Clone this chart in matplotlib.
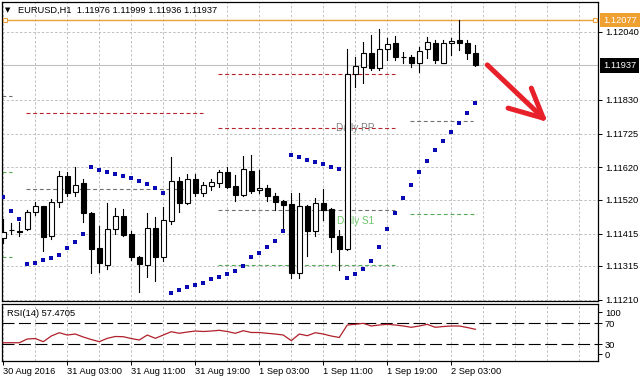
import matplotlib.pyplot as plt
from matplotlib.patches import Rectangle
import matplotlib.transforms as mtransforms

plt.rcParams['font.family'] = ['Liberation Sans', 'DejaVu Sans']
plt.rcParams['font.size'] = 6.7

# EURUSD H1 candles, 30 Aug 19:00 .. 2 Sep 06:00
opens = [1.11401, 1.11425, 1.11422, 1.11429, 1.11482, 1.11500, 1.11407, 1.11513, 1.11593, 1.11544,
         1.11572, 1.11479, 1.11370, 1.11318, 1.11429, 1.11469, 1.11414, 1.11342, 1.11318, 1.11432,
         1.11342, 1.11454, 1.11578, 1.11510, 1.11584, 1.11541, 1.11562, 1.11572, 1.11606, 1.11562,
         1.11535, 1.11609, 1.11550, 1.11556, 1.11531, 1.11516, 1.11507, 1.11293, 1.11500, 1.11423,
         1.11510, 1.11491, 1.11407, 1.11367, 1.11910, 1.11931, 1.11975, 1.11928, 1.11987, 1.12006,
         1.11963, 1.11962, 1.11944, 1.11987, 1.12006, 1.11944, 1.12006, 1.12015, 1.12006, 1.11976]
highs = [1.11460, 1.11448, 1.11451, 1.11488, 1.11513, 1.11502, 1.11522, 1.11609, 1.11606, 1.11621,
         1.11584, 1.11481, 1.11438, 1.11510, 1.11494, 1.11491, 1.11423, 1.11345, 1.11479, 1.11466,
         1.11497, 1.11652, 1.11590, 1.11600, 1.11600, 1.11575, 1.11584, 1.11612, 1.11621, 1.11597,
         1.11655, 1.11659, 1.11612, 1.11566, 1.11541, 1.11518, 1.11541, 1.11541, 1.11504, 1.11525,
         1.11553, 1.11493, 1.11426, 1.11987, 1.11962, 1.12009, 1.12031, 1.12049, 1.12021, 1.12027,
         1.11978, 1.11969, 1.11993, 1.12024, 1.12015, 1.12015, 1.12021, 1.12077, 1.12015, 1.11999]
lows = [1.11386, 1.11414, 1.11407, 1.11426, 1.11473, 1.11361, 1.11398, 1.11497, 1.11531, 1.11531,
        1.11451, 1.11293, 1.11296, 1.11305, 1.11414, 1.11407, 1.11333, 1.11234, 1.11280, 1.11268,
        1.11330, 1.11445, 1.11482, 1.11507, 1.11531, 1.11531, 1.11550, 1.11559, 1.11557, 1.11516,
        1.11531, 1.11541, 1.11541, 1.11516, 1.11488, 1.11429, 1.11277, 1.11277, 1.11345, 1.11407,
        1.11457, 1.11358, 1.11302, 1.11364, 1.11869, 1.11882, 1.11922, 1.11922, 1.11953, 1.11953,
        1.11944, 1.11931, 1.11916, 1.11959, 1.11944, 1.11944, 1.11969, 1.11984, 1.11956, 1.11936]
closes = [1.11420, 1.11427, 1.11420, 1.11482, 1.11500, 1.11404, 1.11513, 1.11593, 1.11541, 1.11566,
          1.11479, 1.11367, 1.11324, 1.11429, 1.11469, 1.11411, 1.11342, 1.11321, 1.11432, 1.11342,
          1.11457, 1.11578, 1.11510, 1.11584, 1.11541, 1.11566, 1.11575, 1.11606, 1.11559, 1.11535,
          1.11615, 1.11547, 1.11556, 1.11531, 1.11513, 1.11504, 1.11293, 1.11500, 1.11423, 1.11510,
          1.11488, 1.11404, 1.11367, 1.11910, 1.11934, 1.11975, 1.11928, 1.11987, 1.12003, 1.11962,
          1.11961, 1.11944, 1.11981, 1.12009, 1.11953, 1.12006, 1.12012, 1.12006, 1.11975, 1.11937]

# parabolic SAR
sar = [1.11528, 1.11485, 1.11460, 1.11321, 1.11324, 1.11333, 1.11339, 1.11349, 1.11370, 1.11389,
       1.11414, 1.11621, 1.11612, 1.11606, 1.11600, 1.11593, 1.11587, 1.11578, 1.11569, 1.11556,
       1.11541, 1.11231, 1.11240, 1.11249, 1.11256, 1.11262, 1.11274, 1.11280, 1.11290, 1.11299,
       1.11314, 1.11342, 1.11355, 1.11373, 1.11392, 1.11423, 1.11659, 1.11652, 1.11643, 1.11637,
       1.11631, 1.11621, 1.11615, 1.11277, 1.11290, 1.11305, 1.11330, 1.11373, 1.11429, 1.11479,
       1.11525, 1.11566, 1.11606, 1.11640, 1.11674, 1.11702, 1.11730, 1.11758, 1.11789, 1.11820]

# RSI(14)
rsi = [33.0, 33.0, 33.0, 40.1, 41.0, 35.0, 45.8, 52.1, 47.7, 49.6,
       43.9, 39.1, 35.0, 41.4, 44.9, 44.5, 41.0, 38.2, 47.7, 41.4,
       47.7, 54.0, 51.0, 53.4, 55.3, 54.4, 55.3, 56.7, 54.4, 51.0,
       55.9, 52.5, 52.5, 51.0, 49.6, 47.7, 36.9, 49.6, 46.4, 52.1,
       49.6, 45.8, 43.0, 66.8, 68.1, 70.0, 64.9, 66.8, 68.1, 66.8,
       64.9, 62.4, 64.9, 68.1, 62.4, 63.9, 64.9, 64.9, 62.0, 58.6]

# daily pivot segments: start bar, end bar, level, kind
piv_start = [-0.2, -0.2, -0.2, 2.9, 2.9, 26.9, 26.9, 26.9, 26.9, 50.9, 50.9]
piv_end = [1.1, 1.1, 1.1, 25.0, 25.0, 49.0, 49.0, 49.0, 49.0, 58.7, 59.2]
piv_level = [1.11841, 1.11606, 1.11342, 1.11789, 1.11553, 1.11910, 1.11742, 1.11488, 1.11318,
             1.11764, 1.11476]
piv_kind = ['pp', 's1', 's1', 'r', 'pp', 'r', 'r', 'pp', 's1', 'pp', 's1']

price_ticks = [1.12040, 1.11830, 1.11725, 1.11620, 1.11520, 1.11415, 1.11315, 1.11210]
time_labels = ['30 Aug 2016', '31 Aug 03:00', '31 Aug 11:00', '31 Aug 19:00',
               '1 Sep 03:00', '1 Sep 11:00', '1 Sep 19:00', '2 Sep 03:00']
day_high = 1.12077
last_price = 1.11937

# hand drawn arrow (bar, price)
arrow_shaft_x = [60.5, 67.5]
arrow_shaft_y = [1.11938, 1.11773]
arrow_arm1_x = [67.5, 66.0]
arrow_arm1_y = [1.11773, 1.11866]
arrow_arm2_x = [67.5, 63.1]
arrow_arm2_y = [1.11773, 1.11804]

W, H = 641, 382
fig = plt.figure(figsize=(W / 100, H / 100), dpi=100)
ax = fig.add_axes([2 / W, 1 - 301 / H, 596 / W, 299 / H])
ax2 = fig.add_axes([2 / W, 1 - 361 / H, 596 / W, 57 / H])

xmin, xmax = -0.16, 74.34
grid_kw = dict(color='#c0c0c0', lw=0.7, ls=(0, (2.5, 2)), zorder=0)

for a in (ax, ax2):
    a.set_xlim(xmin, xmax)
    for s in a.spines.values():
        s.set_linewidth(0.9)
        s.set_color('black')
    for k in range(0, 75, 4):
        a.axvline(k, **grid_kw)

# --- main panel
ax.set_ylim(1.11206, 1.12133)
for p in price_ticks:
    ax.axhline(p, **grid_kw)
ax.yaxis.tick_right()
ax.set_yticks(price_ticks)
ax.set_yticklabels(['%.5f' % p for p in price_ticks])
ax.tick_params(axis='y', direction='out', length=3, width=0.7, pad=2, labelsize=6.7)
ax.set_xticks([])

colors = {'r': '#b5242c', 'pp': '#707070', 's1': '#55aa55'}
for x0, x1, lev, kind in zip(piv_start, piv_end, piv_level, piv_kind):
    ax.plot([x0, x1], [lev, lev], color=colors[kind], lw=0.8, ls=(0, (3.5, 2.5)), zorder=1)
ax.text(41.6, 1.11742, 'Daily PP', color='#808080', fontsize=7.2, va='center', zorder=2)
ax.text(41.7, 1.11454, 'Daily S1', color='#6cc46c', fontsize=7.2, va='center', zorder=2)

ax.axhline(last_price, color='#c0c0c0', lw=0.8, zorder=1)
ax.axhline(day_high, color='#e8a33c', lw=1.0, zorder=1)
ax.plot([0.25, 74.0], [day_high, day_high], 's', ms=3.2, mfc='white', mec='#e8a33c', mew=0.8,
        zorder=3, clip_on=False)

for i, (o, h, l, c) in enumerate(zip(opens, highs, lows, closes)):
    ax.plot([i, i], [l, h], color='black', lw=0.8, zorder=3)
    bottom = min(o, c)
    height = max(abs(c - o), 0.000005)
    fc = 'white' if c >= o else 'black'
    ax.add_patch(Rectangle((i - 0.3, bottom), 0.6, height, facecolor=fc, edgecolor='black',
                           lw=0.8, zorder=4))

ax.plot(range(len(sar)), sar, 's', color='#0a0ab4', ms=2.4, mew=0, zorder=5)

red = '#e8202a'
for xs, ys in ((arrow_shaft_x, arrow_shaft_y), (arrow_arm1_x, arrow_arm1_y),
               (arrow_arm2_x, arrow_arm2_y)):
    ax.plot(xs, ys, color=red, lw=3.6, solid_capstyle='round', zorder=6)

trans = mtransforms.blended_transform_factory(ax.transAxes, ax.transData)
ax.text(1.0085, day_high, '%.5f' % day_high, transform=trans, color='white', va='center',
        fontsize=6.7, clip_on=False,
        bbox=dict(boxstyle='square,pad=0.3', fc='#f0a030', ec='none'))
ax.text(1.0085, last_price, '%.5f' % last_price, transform=trans, color='white', va='center',
        fontsize=6.7, clip_on=False,
        bbox=dict(boxstyle='square,pad=0.3', fc='black', ec='none'))

fig.text(18 / W, 1 - 10 / H, 'EURUSD,H1  1.11976 1.11999 1.11936 1.11937', va='center',
         fontsize=6.7)
fig.text(5 / W, 1 - 10 / H, '\u25bc', va='center', fontsize=5, family='DejaVu Sans')

# --- RSI panel
ax2.set_ylim(-1.8, 106.8)
lvl_ls = (0, (10.8, 4.0))
ax2.axhline(70, color='black', lw=0.8, ls=lvl_ls, zorder=1)
ax2.axhline(30, color='black', lw=0.8, ls=lvl_ls, zorder=1)
ax2.plot(range(len(rsi)), rsi, color='#b0202a', lw=0.9, zorder=3)
ax2.text(5 / 596, (361 - 314) / 57, 'RSI(14) 57.4705', transform=ax2.transAxes, va='center',
         fontsize=6.7)
ax2.yaxis.tick_right()
ax2.set_yticks([91.5, 70, 30, 11.5])
ax2.set_yticklabels(['100', '70', '30', '0'])
ax2.tick_params(axis='y', direction='out', length=3, width=0.7, pad=2, labelsize=6.7)
ax2.set_xticks(range(0, 8 * len(time_labels), 8))
ax2.set_xticklabels(time_labels)
for lbl in ax2.get_xticklabels():
    lbl.set_ha('left')
ax2.tick_params(axis='x', direction='out', length=3, width=0.7, pad=1.5, labelsize=6.7)

fig.savefig('out.png', dpi=100)
